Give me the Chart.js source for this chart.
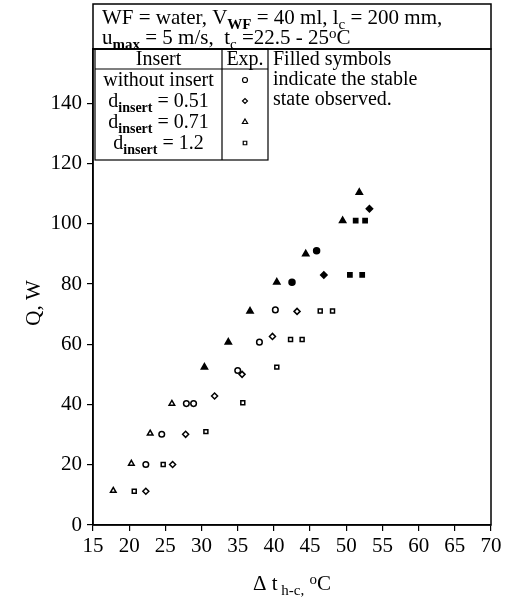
<!DOCTYPE html>
<html>
<head>
<meta charset="utf-8">
<script src="https://cdn.jsdelivr.net/npm/chart.js@4/dist/chart.umd.min.js"></script>
<style>
  html, body { margin: 0; background: #fff; }
  #wrap { width: 508px; height: 602px; }
</style>
</head>
<body>
<div id="wrap"><canvas id="chart" width="508" height="602"></canvas></div>
<script>
// points: [Δt (°C), Q (W)]
const noInsertOpen   = [[22.3,20.1],[24.5,30.1],[27.9,40.3],[28.9,40.3],[35.0,51.3],[38.0,60.7],[40.2,71.4]];
const noInsertFilled = [[42.5,80.6],[45.9,91.0]];
const d051Open       = [[22.3,11.2],[26.0,20.1],[27.8,30.1],[31.8,42.8],[35.6,50.0],[39.8,62.6],[43.2,70.9]];
const d051Filled     = [[46.9,83.0],[53.2,105.0]];
const d071Open       = [[17.8,11.4],[20.3,20.4],[22.9,30.4],[25.9,40.3]];
const d071Filled     = [[30.4,52.4],[33.7,60.7],[36.7,71.0],[40.4,80.6],[44.4,90.0],[49.5,101.0],[51.8,110.4]];
const d12Open        = [[20.7,11.2],[24.7,20.1],[30.6,31.0],[35.7,40.6],[40.4,52.4],[42.3,61.6],[43.9,61.6],[46.4,71.0],[48.1,71.0]];
const d12Filled      = [[50.5,83.0],[52.2,83.0],[51.3,101.0],[52.6,101.0]];

const xTicks = [15, 20, 25, 30, 35, 40, 45, 50, 55, 60, 65, 70];
const yTicks = [0, 20, 40, 60, 80, 100, 120, 140];

// legend rows: [label parts, point style]
const legendRows = [
  [[["without insert", ""]], "circle"],
  [[["d", ""], ["insert", "subb"], [" = 0.51", ""]], "rectRot"],
  [[["d", ""], ["insert", "subb"], [" = 0.71", ""]], "triangle"],
  [[["d", ""], ["insert", "subb"], [" = 1.2", ""]], "rect"],
];
const infoLines = [
  [["WF = water, V", ""], ["WF", "subb"], [" = 40 ml, l", ""], ["c", "sub"], [" = 200 mm,", ""]],
  [["u", ""], ["max", "subb"], [" = 5 m/s,  t", ""], ["c", "sub"], [" =22.5 - 25", ""], ["o", "sup"], ["C", ""]],
];
const noteLines = ["Filled symbols", "indicate the stable", "state observed."];

const SERIF = "'Liberation Serif', 'Times New Roman', serif";

const toPts = arr => arr.map(([x, y]) => ({ x, y }));

function series(label, arr, style, filled, r) {
  return {
    label,
    data: toPts(arr),
    pointStyle: style,
    pointRadius: r,
    pointBorderWidth: 1.5,
    borderColor: "#000",
    pointBorderColor: "#000",
    pointBackgroundColor: filled ? "#000" : "#fff",
    showLine: false,
  };
}

// draw text with sub/superscript pieces
function rich(ctx, parts, x, y, size, align) {
  const fontFor = m => {
    if (m === "sub" || m === "sup") return `${Math.round(size * 0.7)}px ${SERIF}`;
    if (m === "subb") return `bold ${Math.round(size * 0.7)}px ${SERIF}`;
    return `${size}px ${SERIF}`;
  };
  let total = 0;
  parts.forEach(([t, m]) => { ctx.font = fontFor(m); total += ctx.measureText(t).width; });
  let cx = align === "center" ? x - total / 2 : x;
  ctx.textAlign = "left";
  ctx.textBaseline = "alphabetic";
  parts.forEach(([t, m]) => {
    ctx.font = fontFor(m);
    let dy = 0;
    if (m === "sub" || m === "subb") dy = size * 0.25;
    if (m === "sup") dy = -size * 0.3;
    ctx.fillText(t, cx, y + dy);
    cx += ctx.measureText(t).width;
  });
}

const decorPlugin = {
  id: "decor",
  afterDraw(chart) {
    const { ctx, chartArea: a } = chart;
    ctx.save();
    ctx.strokeStyle = "#000";
    ctx.fillStyle = "#000";
    ctx.lineWidth = 1.5;
    // plot frame
    ctx.strokeRect(a.left, a.top, a.right - a.left, a.bottom - a.top);

    // info box above the plot
    ctx.strokeRect(a.left, 4, a.right - a.left, a.top - 4);
    rich(ctx, infoLines[0], a.left + 9, 24, 21);
    rich(ctx, infoLines[1], a.left + 9, 44, 21);

    // legend table
    const L = 95, D = 222, R = 268, T = a.top, B = 160;
    ctx.lineWidth = 1.2;
    ctx.strokeRect(L, T, R - L, B - T);
    ctx.beginPath();
    ctx.moveTo(D, T); ctx.lineTo(D, B);
    ctx.moveTo(L, T + 20); ctx.lineTo(R, T + 20);
    ctx.stroke();
    rich(ctx, [["Insert", ""]], (L + D) / 2, T + 16, 20, "center");
    rich(ctx, [["Exp.", ""]], (D + R) / 2, T + 16, 20, "center");
    legendRows.forEach(([parts, style], i) => {
      const yb = T + 37 + i * 21;
      ctx.fillStyle = "#000";
      rich(ctx, parts, (L + D) / 2, yb, 20, "center");
      ctx.fillStyle = "#fff";
      Chart.helpers.drawPoint(ctx, {
        pointStyle: style, radius: style === "triangle" ? 3 : 2.5, borderWidth: 1.3,
      }, (D + R) / 2, yb - 6);
    });

    // note next to the legend
    ctx.fillStyle = "#000";
    noteLines.forEach((t, i) => rich(ctx, [[t, ""]], R + 5, T + 16 + i * 20, 20));

    // axis titles
    ctx.save();
    ctx.translate(33, (a.top + a.bottom) / 2 + 16);
    ctx.rotate(-Math.PI / 2);
    rich(ctx, [["Q, W", ""]], 0, 7, 21, "center");
    ctx.restore();
    rich(ctx, [["\u0394 t", ""], [" h-c,", "sub"], [" ", ""], ["o", "sup"], ["C", ""]], (a.left + a.right) / 2, 590, 21, "center");
    ctx.restore();
  }
};

new Chart(document.getElementById("chart"), {
  type: "scatter",
  data: {
    datasets: [
      series("without insert", noInsertOpen, "circle", false, 2.8),
      series("without insert (stable)", noInsertFilled, "circle", true, 3),
      series("d = 0.51", d051Open, "rectRot", false, 3),
      series("d = 0.51 (stable)", d051Filled, "rectRot", true, 3.2),
      series("d = 0.71", d071Open, "triangle", false, 3.2),
      series("d = 0.71 (stable)", d071Filled, "triangle", true, 3.6),
      series("d = 1.2", d12Open, "rect", false, 2.8),
      series("d = 1.2 (stable)", d12Filled, "rect", true, 3),
    ]
  },
  options: {
    responsive: false,
    animation: false,
    layout: { padding: { top: 49, right: 17, left: 0, bottom: 0 } },
    plugins: { legend: { display: false }, tooltip: { enabled: false } },
    scales: {
      x: {
        type: "linear", min: 15, max: 70,
        afterFit: s => { s.height = 77; },
        afterBuildTicks: s => { s.ticks = xTicks.map(v => ({ value: v })); },
        ticks: { color: "#000", font: { family: SERIF, size: 21 }, padding: 3 },
        grid: { drawOnChartArea: false, color: "#000", tickLength: 6, lineWidth: 1.2 },
        border: { color: "#000", width: 1.5 },
      },
      y: {
        type: "linear", min: 0, max: 158,
        afterFit: s => { s.width = 93; },
        afterBuildTicks: s => { s.ticks = yTicks.map(v => ({ value: v })); },
        ticks: { color: "#000", font: { family: SERIF, size: 21 }, padding: 5 },
        grid: { drawOnChartArea: false, color: "#000", tickLength: 6, lineWidth: 1.2 },
        border: { color: "#000", width: 1.5 },
      }
    }
  },
  plugins: [decorPlugin],
});
</script>
</body>
</html>
